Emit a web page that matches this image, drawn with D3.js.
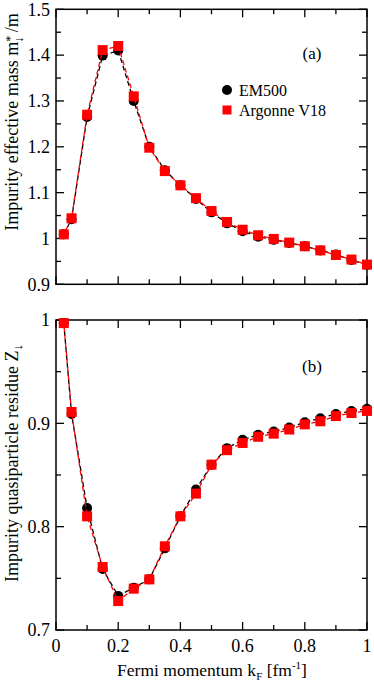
<!DOCTYPE html>
<html><head><meta charset="utf-8">
<script src="https://cdn.jsdelivr.net/npm/d3@7"></script>
<style>body{margin:0;background:#fff}svg{display:block}</style>
</head><body><svg id="c" width="374" height="689" font-family="'Liberation Serif', 'DejaVu Serif', 'Times New Roman', serif"></svg>
<script>
const kF = [0.025,0.05,0.1,0.15,0.2,0.25,0.3,0.35,0.4,0.45,0.5,0.55,0.6,0.65,0.7,0.75,0.8,0.85,0.9,0.95,1.0];
const massEM500 = [1.009,1.042,1.265,1.399,1.41,1.30,1.20,1.149,1.116,1.086,1.057,1.033,1.016,1.004,0.997,0.990,0.983,0.974,0.965,0.953,0.942];
const massAV18 = [1.009,1.044,1.270,1.411,1.420,1.310,1.198,1.147,1.116,1.088,1.060,1.036,1.019,1.007,0.999,0.991,0.983,0.974,0.964,0.954,0.943];
const zEM500 = [0.997,0.909,0.818,0.759,0.733,0.741,0.749,0.779,0.810,0.836,0.860,0.876,0.884,0.889,0.892,0.896,0.901,0.905,0.909,0.912,0.914];
const zAV18 = [0.997,0.911,0.810,0.761,0.728,0.740,0.749,0.781,0.810,0.832,0.860,0.874,0.881,0.887,0.890,0.894,0.899,0.902,0.907,0.910,0.912];
const xTicks = [0,0.2,0.4,0.6,0.8,1];
const massTicks = [0.9,1,1.1,1.2,1.3,1.4,1.5];
const zTicks = [0.7,0.8,0.9,1];
const seriesNames = ["EM500","Argonne V18"];

const svg = d3.select("#c");
const L = 56, R = 367;
const x = d3.scaleLinear().domain([0,1]).range([L,R]);

function panel(top, bottom, yDom, yTicksArr, yMinorStep, s1, s2, fmt, showX){
  const y = d3.scaleLinear().domain(yDom).range([bottom, top]);
  const g = svg.append("g");
  const xMinor = d3.range(0,1.0001,0.1);
  const yMinor = d3.range(yDom[0], yDom[1]+1e-9, yMinorStep);
  const tk = g.append("g").attr("stroke","#000").attr("stroke-width",1.3);
  xMinor.forEach((v,i)=>{
    const len = (Math.round(v*10)%2===0)?8:5;
    tk.append("line").attr("x1",x(v)).attr("x2",x(v)).attr("y1",bottom).attr("y2",bottom-len);
    tk.append("line").attr("x1",x(v)).attr("x2",x(v)).attr("y1",top).attr("y2",top+len);
  });
  yMinor.forEach((v,i)=>{
    const len = (i%2===0)?8:5;
    tk.append("line").attr("x1",L).attr("x2",L+len).attr("y1",y(v)).attr("y2",y(v));
    tk.append("line").attr("x1",R).attr("x2",R-len).attr("y1",y(v)).attr("y2",y(v));
  });
  g.append("rect").attr("x",L).attr("y",top).attr("width",R-L).attr("height",bottom-top)
    .attr("fill","none").attr("stroke","#000").attr("stroke-width",1.5);
  yTicksArr.forEach(v=>{
    g.append("text").attr("x",L-6).attr("y",y(v)).attr("dy","0.35em").attr("text-anchor","end")
      .attr("font-size",18).text(fmt(v));
  });
  if(showX){
    xTicks.forEach(v=>{
      g.append("text").attr("x",x(v)).attr("y",bottom+22).attr("text-anchor","middle")
        .attr("font-size",18).text(v===0||v===1?String(v):v.toFixed(1));
    });
  }
  const line = d3.line().x((d,i)=>x(kF[i])).y(d=>y(d));
  g.append("path").datum(s1).attr("d",line).attr("fill","none").attr("stroke","#000")
    .attr("stroke-width",1.3).attr("stroke-dasharray","5,3");
  g.selectAll(".c").data(s1).enter().append("circle").attr("cx",(d,i)=>x(kF[i])).attr("cy",d=>y(d))
    .attr("r",5).attr("fill","#000");
  g.append("path").datum(s2).attr("d",line).attr("fill","none").attr("stroke","#ff0000")
    .attr("stroke-width",1.3).attr("stroke-dasharray","5,3").attr("stroke-dashoffset",4);
  g.selectAll(".s").data(s2).enter().append("rect").attr("x",(d,i)=>x(kF[i])-5).attr("y",d=>y(d)-5)
    .attr("width",10).attr("height",10).attr("fill","#ff0000");
  return y;
}

panel(9.3, 284.3, [0.9,1.5], massTicks, 0.05, massEM500, massAV18, v=>v===1?"1":v.toFixed(1), false);
panel(320, 630, [0.7,1.0], zTicks, 0.05, zEM500, zAV18, v=>v===1?"1":v.toFixed(1), true);

svg.append("text").attr("x",312).attr("y",59).attr("text-anchor","middle").attr("font-size",17).text("(a)");
svg.append("text").attr("x",312).attr("y",372).attr("text-anchor","middle").attr("font-size",17).text("(b)");

svg.append("circle").attr("cx",227).attr("cy",90).attr("r",5).attr("fill","#000");
svg.append("text").attr("x",239).attr("y",90).attr("dy","0.35em").attr("font-size",16).text(seriesNames[0]);
svg.append("rect").attr("x",222.5).attr("y",105.5).attr("width",9).attr("height",9).attr("fill","#ff0000");
svg.append("text").attr("x",239).attr("y",110).attr("dy","0.35em").attr("font-size",16).text(seriesNames[1]);

const t1 = svg.append("text").attr("transform","translate(18,122) rotate(-90)").attr("text-anchor","middle").attr("font-size",18);
t1.append("tspan").text("Impurity effective mass m");
t1.append("tspan").attr("font-size",12).attr("dy",-4).text("*");
t1.append("tspan").attr("font-size",12).attr("dx",-7).attr("dy",9).text("↓");
t1.append("tspan").attr("dy",-5).text(" /m");

const t2 = svg.append("text").attr("transform","translate(18,463) rotate(-90)").attr("text-anchor","middle").attr("font-size",18);
t2.append("tspan").text("Impurity quasiparticle residue Z");
t2.append("tspan").attr("font-size",13).attr("dy",4).text("↓");

const t3 = svg.append("text").attr("x",212).attr("y",676).attr("text-anchor","middle").attr("font-size",17.5);
t3.append("tspan").text("Fermi momentum k");
t3.append("tspan").attr("font-size",11).attr("dy",4).text("F");
t3.append("tspan").attr("dy",-4).text(" [fm");
t3.append("tspan").attr("font-size",11).attr("dy",-7).text("-1");
t3.append("tspan").attr("dy",7).text("]");
</script></body></html>
